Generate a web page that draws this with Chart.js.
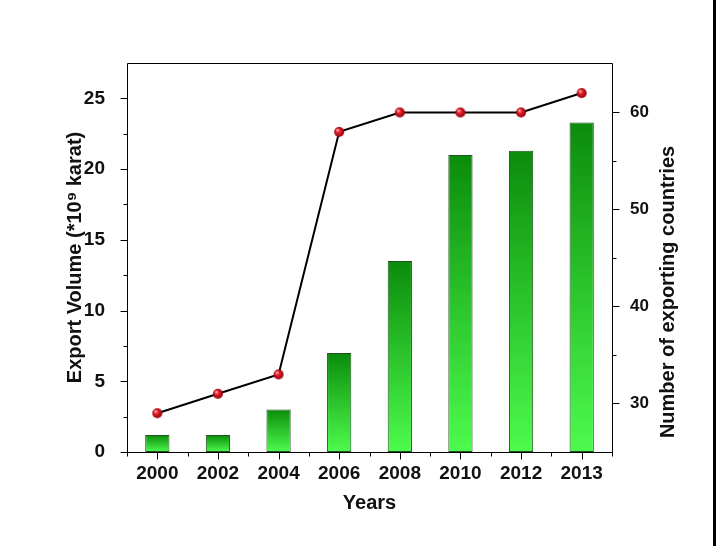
<!DOCTYPE html>
<html><head><meta charset="utf-8">
<script src="https://cdn.jsdelivr.net/npm/chart.js@4/dist/chart.umd.min.js"></script>
<style>html,body{margin:0;padding:0;background:#fff}#wrap{width:716px;height:546px;position:relative}</style>
</head><body><div id="wrap"><canvas id="c" width="716" height="546"></canvas></div>
<script>
const years = ['2000','2002','2004','2006','2008','2010','2012','2013'];
const exportVolume = [1.2, 1.2, 3.0, 7.0, 13.5, 21.0, 21.3, 23.3];
const exportingCountries = [29, 31, 33, 58, 60, 60, 60, 62];
const leftTickValues = [0, 5, 10, 15, 20, 25];
const rightTickValues = [30, 40, 50, 60];
const leftTitle = 'Export Volume (*10\u2079 karat)';
const rightTitle = 'Number of exporting countries';
const xTitle = 'Years';

const FONT = "'Liberation Sans', Arial, Helvetica, sans-serif";

function sphere(r){
  const s = 2*r+2, c = document.createElement('canvas');
  c.width = c.height = s;
  const g = c.getContext('2d');
  const rg = g.createRadialGradient(s/2-r*0.35, s/2-r*0.4, r*0.1, s/2, s/2, r);
  rg.addColorStop(0, '#ffb0b0');
  rg.addColorStop(0.35, '#e8202c');
  rg.addColorStop(1, '#8e0008');
  g.fillStyle = rg;
  g.beginPath(); g.arc(s/2, s/2, r, 0, Math.PI*2); g.fill();
  return c;
}
const ball = sphere(5);

const framePlugin = {
  id: 'frame',
  beforeDraw(chart){
    const c = chart.ctx; c.save(); c.fillStyle = '#fff'; c.fillRect(0,0,chart.width,chart.height); c.restore();
  },
  afterDraw(chart){
    const c = chart.ctx, a = chart.chartArea;
    const y = chart.scales.y, y1 = chart.scales.y1, x = chart.scales.x;
    c.save();
    c.strokeStyle = '#000'; c.lineWidth = 1;
    const L = Math.round(a.left)+0.5, R = Math.round(a.right)+0.5, T = Math.round(a.top)+0.5, B = Math.round(a.bottom)+0.5;
    c.beginPath(); c.rect(L, T, R-L, B-T); c.stroke();
    c.beginPath();
    for (let v = 0; v <= 25; v += 2.5){
      const p = Math.round(y.getPixelForValue(v))+0.5;
      const len = (v % 5 === 0) ? 7 : 4;
      c.moveTo(L, p); c.lineTo(L-len, p);
    }
    for (let v = 30; v <= 60; v += 5){
      const p = Math.round(y1.getPixelForValue(v))+0.5;
      const len = (v % 10 === 0) ? 7 : 4;
      c.moveTo(R, p); c.lineTo(R+len, p);
    }
    for (let i = 0; i < years.length; i++){
      const p = Math.round(x.getPixelForValue(i))+0.5;
      c.moveTo(p, B); c.lineTo(p, B+7);
    }
    const step = x.getPixelForValue(1) - x.getPixelForValue(0);
    for (let i = 0; i <= years.length; i++){
      const p = Math.round(x.getPixelForValue(0) - step/2 + i*step)+0.5;
      c.moveTo(p, B); c.lineTo(p, B+4);
    }
    c.stroke();
    c.translate(668, 292); c.rotate(-Math.PI/2);
    c.fillStyle = '#111'; c.font = 'bold 20px ' + FONT;
    c.textAlign = 'center'; c.textBaseline = 'middle';
    c.fillText(rightTitle, 0, 0);
    c.restore();
    c.save(); c.fillStyle = '#000'; c.fillRect(713, 0, 3, chart.height); c.restore();
  }
};

new Chart(document.getElementById('c'), {
  data: {
    labels: years,
    datasets: [
      {
        type: 'line', data: exportingCountries, yAxisID: 'y1', order: 0,
        borderColor: '#000', borderWidth: 2, tension: 0,
        pointStyle: ball, pointRadius: 5, pointHoverRadius: 5
      },
      {
        type: 'bar', data: exportVolume, yAxisID: 'y', order: 1,
        barPercentage: 0.4, categoryPercentage: 1,
        borderColor: '#1f4f1f', borderWidth: 1, borderSkipped: false,
        backgroundColor(ctx){
          const chart = ctx.chart;
          if (!chart.chartArea || ctx.type !== 'data') return '#2c2';
          const ys = chart.scales.y;
          const top = ys.getPixelForValue(ctx.raw), base = ys.getPixelForValue(0);
          const g = chart.ctx.createLinearGradient(0, top, 0, base);
          g.addColorStop(0, '#0b8c0b');
          g.addColorStop(0.5, '#2cc42c');
          g.addColorStop(1, '#4dfb4d');
          return g;
        }
      }
    ]
  },
  options: {
    responsive: false, animation: false, devicePixelRatio: 1,
    layout: { padding: { top: 63, left: 0, right: 0, bottom: 0 } },
    plugins: { legend: { display: false }, tooltip: { enabled: false } },
    scales: {
      x: {
        type: 'category', offset: true,
        grid: { display: false }, border: { display: false },
        ticks: { color: '#111', font: { family: FONT, size: 19, weight: 'bold' }, padding: 2, maxRotation: 0, autoSkip: false },
        title: { display: true, text: xTitle, color: '#111', font: { family: FONT, size: 20, weight: 'bold' }, padding: { top: 0, bottom: 31 } },
        afterFit(s){ s.height = 94; }
      },
      y: {
        position: 'left', min: 0, max: 27.5,
        grid: { display: false }, border: { display: false },
        afterBuildTicks(s){ s.ticks = leftTickValues.map(v => ({ value: v })); },
        ticks: { color: '#111', font: { family: FONT, size: 19, weight: 'bold' }, padding: 14 },
        title: { display: true, text: leftTitle, color: '#111', font: { family: FONT, size: 20, weight: 'bold' }, padding: { top: 63, bottom: 0 } },
        afterFit(s){ s.width = 127; }
      },
      y1: {
        position: 'right', min: 25, max: 65.1,
        grid: { display: false }, border: { display: false },
        afterBuildTicks(s){ s.ticks = rightTickValues.map(v => ({ value: v })); },
        ticks: { color: '#111', font: { family: FONT, size: 17, weight: 'bold' }, padding: 10 },
        afterFit(s){ s.width = 104; }
      }
    }
  },
  plugins: [framePlugin]
});
</script>
</body></html>
